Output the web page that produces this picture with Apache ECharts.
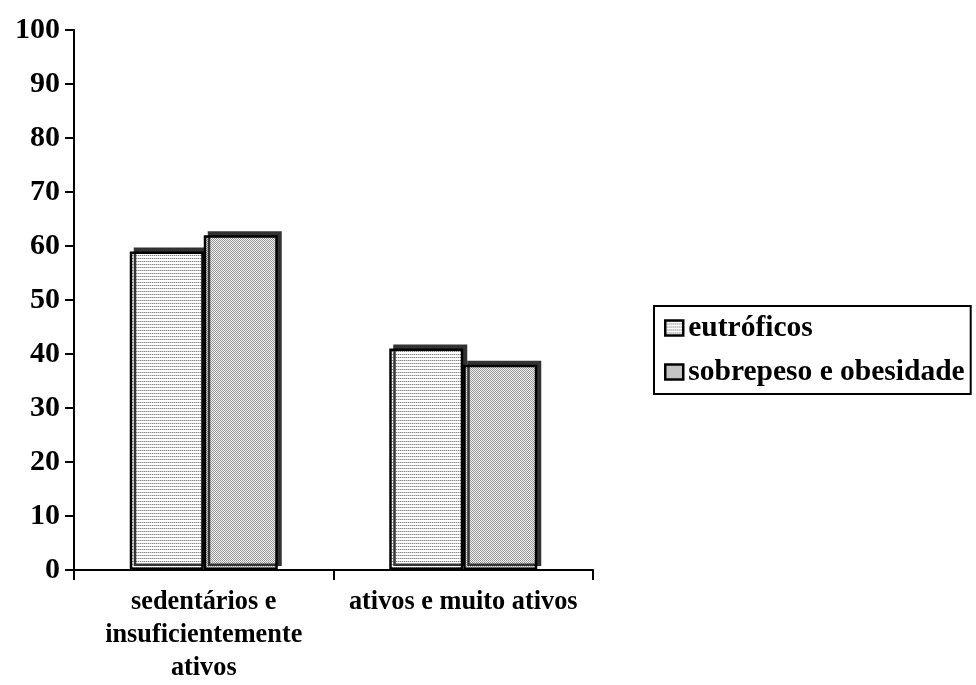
<!DOCTYPE html>
<html>
<head>
<meta charset="utf-8">
<script src="https://cdn.jsdelivr.net/npm/echarts@6/dist/echarts.min.js"></script>
<style>
html,body{margin:0;padding:0;background:#fff;}
#chart{width:976px;height:685px;}
</style>
</head>
<body>
<div id="chart"></div>
<script>
var categories = ['sedentários e\ninsuficientemente\nativos', 'ativos e muito ativos'];
var seriesNames = ['eutróficos', 'sobrepeso e obesidade'];
var eutroficos = [59, 41];
var sobrepeso = [62, 38];
var yTicks = [0, 100, 10];

function makePattern(w, h, pixels) {
  var c = document.createElement('canvas');
  c.width = w; c.height = h;
  var ctx = c.getContext('2d');
  ctx.fillStyle = '#ffffff';
  ctx.fillRect(0, 0, w, h);
  pixels.forEach(function (p) {
    ctx.fillStyle = p[2];
    ctx.fillRect(p[0], p[1], 1, 1);
  });
  return c;
}
var pat1 = makePattern(2, 3, [[0, 0, '#888888'], [1, 0, '#cccccc']]);
var pat2 = makePattern(2, 2, [[0, 0, '#999999'], [1, 1, '#999999'], [1, 0, '#eeeeee'], [0, 1, '#eeeeee']]);

var font = 'Liberation Serif';
var barStyle = function (pat) {
  return {
    color: { image: pat, repeat: 'repeat' },
    borderColor: '#000',
    borderWidth: 2.5,
    shadowColor: '#333',
    shadowBlur: 0,
    shadowOffsetX: 4,
    shadowOffsetY: -4
  };
};

var chart = echarts.init(document.getElementById('chart'), null, { renderer: 'canvas' });
chart.setOption({
  animation: false,
  backgroundColor: '#fff',
  textStyle: { fontFamily: font, fontWeight: 'bold', color: '#000' },
  grid: { left: 74, right: 383, top: 30, bottom: 111, containLabel: false },
  legend: {
    orient: 'vertical',
    left: 654,
    top: 306,
    padding: [7, 6, 7, 10],
    itemGap: 14,
    icon: 'rect',
    itemWidth: 18,
    itemHeight: 15,
    borderColor: '#000',
    borderWidth: 2,
    borderRadius: 0,
    itemStyle: { borderColor: '#000', borderWidth: 2.5, shadowBlur: 0, shadowOffsetX: 0, shadowOffsetY: 0, shadowColor: 'transparent' },
    textStyle: { fontFamily: font, fontWeight: 'bold', fontSize: 29.5, color: '#000', lineHeight: 29 },
    data: seriesNames
  },
  xAxis: {
    type: 'category',
    data: categories,
    axisLine: { lineStyle: { color: '#000', width: 2 } },
    axisTick: { show: true, length: 10, lineStyle: { color: '#000', width: 2 } },
    axisLabel: { fontFamily: font, fontWeight: 'bold', fontSize: 26.3, color: '#000', lineHeight: 33, margin: 16, interval: 0 }
  },
  yAxis: {
    type: 'value',
    min: yTicks[0],
    max: yTicks[1],
    interval: yTicks[2],
    splitLine: { show: false },
    axisLine: { show: true, lineStyle: { color: '#000', width: 2 } },
    axisTick: { show: true, length: 9, lineStyle: { color: '#000', width: 2 } },
    axisLabel: { fontFamily: font, fontWeight: 'bold', fontSize: 30, color: '#000', margin: 14 }
  },
  series: [
    { name: seriesNames[0], type: 'bar', data: eutroficos, barWidth: 74, barGap: '0%', itemStyle: barStyle(pat1) },
    { name: seriesNames[1], type: 'bar', data: sobrepeso, barWidth: 74, barGap: '0%', itemStyle: barStyle(pat2) }
  ]
});
</script>
</body>
</html>
